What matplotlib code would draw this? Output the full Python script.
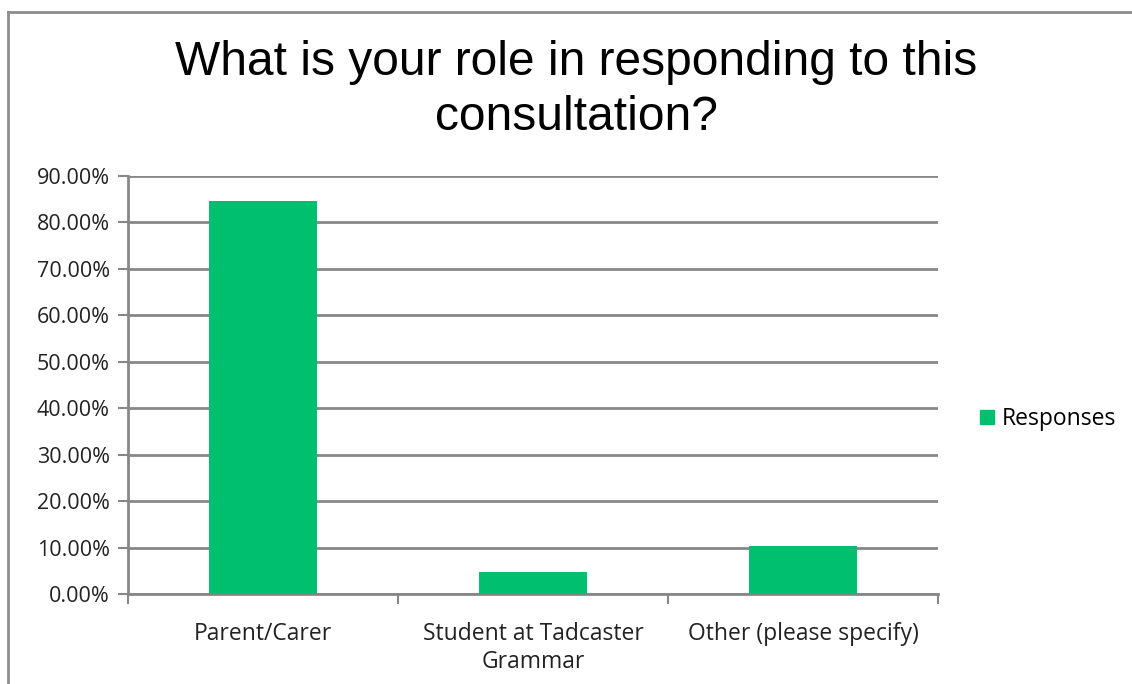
import matplotlib
matplotlib.use("Agg")
import matplotlib.pyplot as plt
from matplotlib.lines import Line2D
from matplotlib.ticker import FuncFormatter

categories = ["Parent/Carer", "Student at Tadcaster\nGrammar", "Other (please specify)"]
responses = [84.6, 4.7, 10.3]
yticks = [0, 10, 20, 30, 40, 50, 60, 70, 80, 90]

green = "#00BF6F"
grid = "#878787"

fig = plt.figure(figsize=(11.32, 6.84), dpi=100)
ax = fig.add_axes([128 / 1132, 90 / 684, 810 / 1132, 418 / 684])

x = range(len(categories))
ax.bar(x, responses, width=0.4, color=green, zorder=3, label="Responses")

ax.set_ylim(0, 90)
ax.set_xlim(-0.5, len(categories) - 0.5)
ax.set_yticks(yticks)
ax.yaxis.set_major_formatter(FuncFormatter(lambda v, p: "%.2f%%" % v))
ax.yaxis.grid(True, color=grid, linewidth=2, zorder=0)
ax.set_xticks([i - 0.5 for i in range(len(categories) + 1)], minor=False)
ax.set_xticklabels([])
ax.set_xticks(list(x), minor=True)
ax.set_xticklabels(categories, minor=True, fontsize=16.5, fontfamily="Open Sans",
                   color="#222222", linespacing=1.25)
ax.tick_params(axis="x", which="minor", length=0, pad=20)
ax.tick_params(axis="x", which="major", length=7, width=1.5, color=grid, direction="out")
ax.tick_params(axis="y", length=7, width=1.5, color=grid, labelsize=15.5, pad=6, labelcolor="#222222")
for lab in ax.get_yticklabels():
    lab.set_fontfamily("Open Sans")

for s in ["top", "right"]:
    ax.spines[s].set_visible(False)
ax.spines["left"].set_color(grid)
ax.spines["left"].set_linewidth(2)
ax.spines["bottom"].set_color(grid)
ax.spines["bottom"].set_linewidth(2)

handle = Line2D([], [], marker="s", color="none", markerfacecolor=green,
                markeredgecolor=green, markersize=10)
fig.legend([handle], ["Responses"], loc="center left", bbox_to_anchor=(958 / 1132, 1 - 419 / 684),
           frameon=False, prop={"family": "Open Sans", "size": 16.5},
           handlelength=0.7, handletextpad=0.3)

fig.text(576 / 1132, 1 - 90 / 684, "What is your role in responding to this\nconsultation?",
         ha="center", va="center", fontsize=34.5, fontfamily="Liberation Sans",
         linespacing=1.3)

# outer chart frame
fig.add_artist(Line2D([8 / 1132, 8 / 1132], [0, 1 - 12 / 684], transform=fig.transFigure,
                      color="#8c8c8c", linewidth=2))
fig.add_artist(Line2D([8 / 1132, 1], [1 - 12 / 684, 1 - 12 / 684], transform=fig.transFigure,
                      color="#8c8c8c", linewidth=2))

fig.savefig("out.png", dpi=100)
